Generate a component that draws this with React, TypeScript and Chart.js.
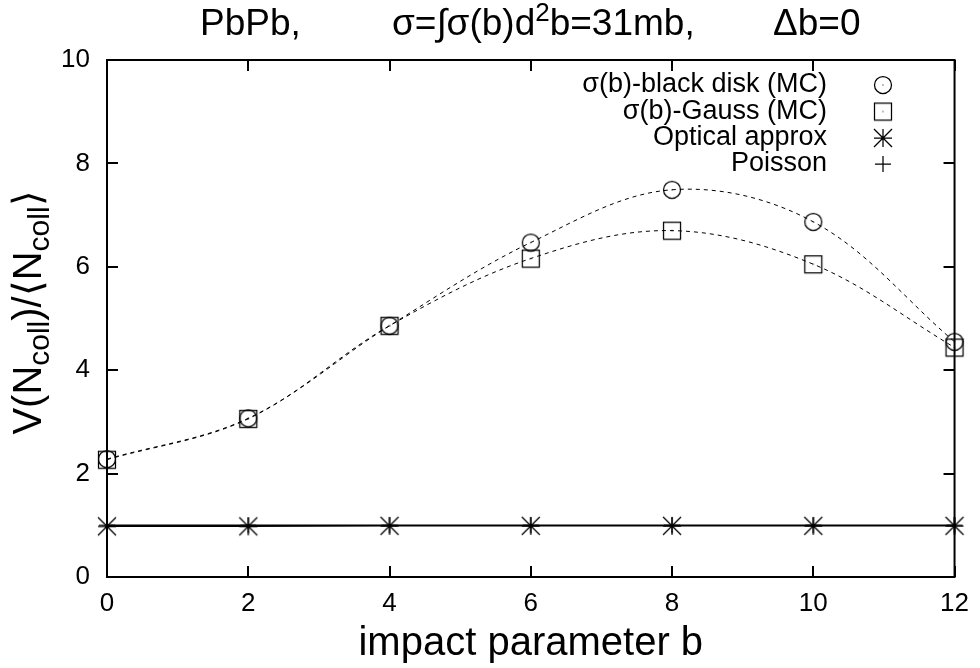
import React, { useEffect, useRef } from 'react';
import { Chart, registerables } from 'chart.js';

Chart.register(...registerables);

// ---- data ----
const impactParameter = [0, 2, 4, 6, 8, 10, 12];
const blackDiskMC = [2.28, 3.07, 4.86, 6.47, 7.49, 6.87, 4.55];
const gaussMC = [2.27, 3.06, 4.86, 6.16, 6.7, 6.05, 4.44];
const opticalApprox = [0.98, 0.98, 0.99, 0.99, 0.99, 0.99, 0.99];
const poisson = [1, 1, 1, 1, 1, 1, 1];
const seriesLabels = ['σ(b)-black disk (MC)', 'σ(b)-Gauss (MC)', 'Optical approx', 'Poisson'];
const xTickValues = [0, 2, 4, 6, 8, 10, 12];
const yTickValues = [0, 2, 4, 6, 8, 10];
const titleLeft = 'PbPb,';
const titleMiddle = ['σ=∫σ(b)d', '2', 'b=31mb,'];
const titleRight = 'Δb=0';
const xAxisTitle = 'impact parameter b';
const yAxisTitle = ['V(N', 'coll', ')/⟨N', 'coll', '⟩'];

const FONT = '"Liberation Sans", Arial, Helvetica, sans-serif';

function makeMarker(kind: string): HTMLCanvasElement {
  const c = document.createElement('canvas');
  c.width = 24;
  c.height = 24;
  const g = c.getContext('2d')!;
  g.strokeStyle = '#000';
  g.fillStyle = '#000';
  g.lineWidth = 1.25;
  const m = 12;
  g.beginPath();
  if (kind === 'circle') {
    g.arc(m, m, 8.5, 0, Math.PI * 2);
  } else if (kind === 'square') {
    g.rect(m - 8.5, m - 8.5, 17, 17);
  } else if (kind === 'star') {
    g.moveTo(m - 9, m); g.lineTo(m + 9, m);
    g.moveTo(m, m - 9); g.lineTo(m, m + 9);
    g.moveTo(m - 9, m - 9); g.lineTo(m + 9, m + 9);
    g.moveTo(m - 9, m + 9); g.lineTo(m + 9, m - 9);
  } else {
    g.moveTo(m - 8, m); g.lineTo(m + 8, m);
    g.moveTo(m, m - 8); g.lineTo(m, m + 8);
  }
  g.stroke();
  if (kind === 'circle' || kind === 'square') {
    g.fillRect(m - 0.5, m - 0.5, 1, 1);
  }
  return c;
}

type Seg = { text: string; size: number; dy: number };

function drawRich(ctx: CanvasRenderingContext2D, segs: Seg[], x: number, y: number, align: 'left' | 'center') {
  let total = 0;
  for (const s of segs) {
    ctx.font = `${s.size}px ${FONT}`;
    total += ctx.measureText(s.text).width;
  }
  let cx = align === 'center' ? x - total / 2 : x;
  ctx.textAlign = 'left';
  ctx.textBaseline = 'alphabetic';
  for (const s of segs) {
    ctx.font = `${s.size}px ${FONT}`;
    ctx.fillText(s.text, cx, y + s.dy);
    cx += ctx.measureText(s.text).width;
  }
}

export default function App() {
  const ref = useRef<HTMLCanvasElement>(null);

  useEffect(() => {
    document.body.style.margin = '0';
    const canvas = ref.current!;
    const markers = {
      circle: makeMarker('circle'),
      square: makeMarker('square'),
      star: makeMarker('star'),
      plus: makeMarker('plus'),
    };
    const markerList = [markers.circle, markers.square, markers.star, markers.plus];

    const toPts = (arr: number[]) => impactParameter.map((x, i) => ({ x, y: arr[i] }));

    const gnuplotPlugin = {
      id: 'gnuplotDecor',
      beforeDatasetsDraw(chart: any) {
        const { ctx, chartArea: a, scales } = chart;
        ctx.save();
        ctx.strokeStyle = '#000';
        ctx.lineWidth = 2;
        ctx.strokeRect(a.left, a.top, a.right - a.left, a.bottom - a.top);
        const tl = 11;
        ctx.beginPath();
        for (const v of xTickValues) {
          const px = Math.round(scales.x.getPixelForValue(v));
          ctx.moveTo(px, a.bottom); ctx.lineTo(px, a.bottom - tl);
          ctx.moveTo(px, a.top); ctx.lineTo(px, a.top + tl);
        }
        for (const v of yTickValues) {
          const py = Math.round(scales.y.getPixelForValue(v));
          ctx.moveTo(a.left, py); ctx.lineTo(a.left + tl, py);
          ctx.moveTo(a.right, py); ctx.lineTo(a.right - tl, py);
        }
        ctx.stroke();
        ctx.restore();
      },
      afterDraw(chart: any) {
        const { ctx, chartArea: a } = chart;
        ctx.save();
        ctx.fillStyle = '#000';
        // title
        drawRich(ctx, [{ text: titleLeft, size: 37, dy: 0 }], 200, 35, 'left');
        drawRich(ctx, [
          { text: titleMiddle[0], size: 37, dy: 0 },
          { text: titleMiddle[1], size: 26, dy: -14 },
          { text: titleMiddle[2], size: 37, dy: 0 },
        ], 392, 35, 'left');
        drawRich(ctx, [{ text: titleRight, size: 37, dy: 0 }], 773, 35, 'left');
        // x title
        drawRich(ctx, [{ text: xAxisTitle, size: 40, dy: 0 }], (a.left + a.right) / 2, 655, 'center');
        // y title
        ctx.save();
        ctx.translate(41, (a.top + a.bottom) / 2 - 6);
        ctx.rotate(-Math.PI / 2);
        drawRich(ctx, [
          { text: yAxisTitle[0], size: 40, dy: 0 },
          { text: yAxisTitle[1], size: 30, dy: 8 },
          { text: yAxisTitle[2], size: 40, dy: 0 },
          { text: yAxisTitle[3], size: 30, dy: 8 },
          { text: yAxisTitle[4], size: 40, dy: 0 },
        ], 0, 0, 'center');
        ctx.restore();
        // legend
        ctx.font = `27px ${FONT}`;
        ctx.textAlign = 'right';
        ctx.textBaseline = 'middle';
        const rowY = [85, 111.5, 138, 164];
        chart.data.datasets.forEach((ds: any, i: number) => {
          ctx.fillText(ds.label, 827, rowY[i]);
          const img = markerList[i];
          ctx.drawImage(img, 883 - img.width / 2, rowY[i] - img.height / 2);
        });
        ctx.restore();
      },
    };

    const chart = new Chart(canvas, {
      type: 'line',
      data: {
        datasets: [
          {
            label: seriesLabels[0],
            data: toPts(blackDiskMC),
            borderColor: '#000',
            borderWidth: 1,
            borderDash: [4, 4],
            tension: 0.35,
            pointStyle: markers.circle,
            pointRadius: 9,
            clip: false,
          },
          {
            label: seriesLabels[1],
            data: toPts(gaussMC),
            borderColor: '#000',
            borderWidth: 1,
            borderDash: [4, 4],
            tension: 0.35,
            pointStyle: markers.square,
            pointRadius: 9,
            clip: false,
          },
          {
            label: seriesLabels[2],
            data: toPts(opticalApprox),
            borderColor: '#000',
            borderWidth: 1.5,
            tension: 0,
            pointStyle: markers.star,
            pointRadius: 9,
            clip: false,
          },
          {
            label: seriesLabels[3],
            data: toPts(poisson),
            borderColor: '#000',
            borderWidth: 1.5,
            tension: 0,
            pointStyle: markers.plus,
            pointRadius: 9,
            clip: false,
          },
        ] as any,
      },
      options: {
        animation: false,
        responsive: false,
        devicePixelRatio: 1,
        layout: { padding: { top: 60, right: 17, left: 0, bottom: 0 } },
        plugins: {
          legend: { display: false },
          title: { display: false },
          tooltip: { enabled: false },
        },
        events: [],
        scales: {
          x: {
            type: 'linear',
            min: 0,
            max: 12,
            afterFit: (s: any) => { s.height = 91; },
            afterBuildTicks: (s: any) => { s.ticks = xTickValues.map((v) => ({ value: v })); },
            grid: { display: false, drawTicks: false },
            border: { display: false },
            ticks: { font: { family: FONT, size: 26 }, color: '#000', padding: 11, maxRotation: 0, autoSkip: false },
          },
          y: {
            type: 'linear',
            min: 0,
            max: 10,
            afterFit: (s: any) => { s.width = 107; },
            afterBuildTicks: (s: any) => { s.ticks = yTickValues.map((v) => ({ value: v })); },
            grid: { display: false, drawTicks: false },
            border: { display: false },
            ticks: { font: { family: FONT, size: 26 }, color: '#000', padding: 17, autoSkip: false },
          },
        },
      } as any,
      plugins: [gnuplotPlugin],
    });
    return () => chart.destroy();
  }, []);

  return (
    <div style={{ width: 980, height: 668 }}>
      <canvas ref={ref} width={980} height={668} style={{ display: 'block' }} />
    </div>
  );
}
